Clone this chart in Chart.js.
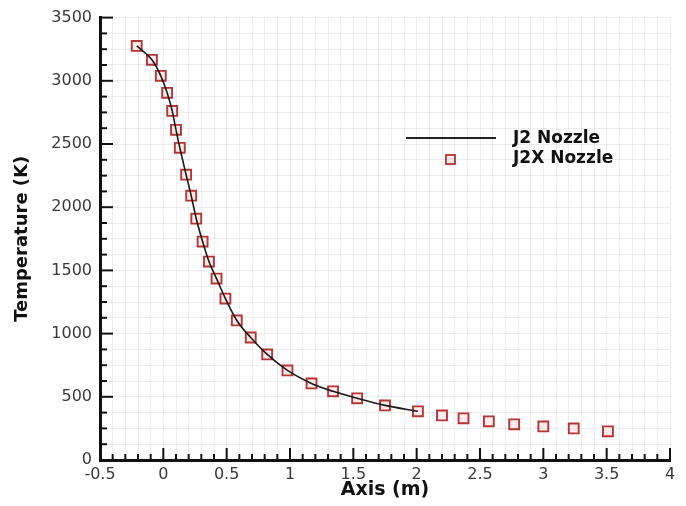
<!DOCTYPE html>
<html>
<head>
<meta charset="utf-8">
<script src="https://cdn.jsdelivr.net/npm/chart.js@4.4.0/dist/chart.umd.min.js"></script>
<style>
  html, body { margin: 0; padding: 0; background: #fff; }
  #wrap { width: 686px; height: 506px; }
</style>
</head>
<body>
<div id="wrap"><canvas id="tempChart" width="686" height="506"></canvas></div>
<script>
// data
const j2xAxis = [-0.21, -0.09, -0.02, 0.03, 0.07, 0.10, 0.13, 0.18, 0.22, 0.26,
  0.31, 0.36, 0.42, 0.49, 0.58, 0.69, 0.82, 0.98, 1.17, 1.34,
  1.53, 1.75, 2.01, 2.20, 2.37, 2.57, 2.77, 3.00, 3.24, 3.51];
const j2xTemp = [3276, 3166, 3039, 2905, 2762, 2612, 2470, 2257, 2091, 1909,
  1728, 1570, 1435, 1277, 1104, 969, 835, 709, 606, 543,
  488, 432, 385, 353, 330, 306, 282, 266, 250, 227];

const j2Axis = [-0.21, -0.09, -0.02, 0.03, 0.07, 0.10, 0.13, 0.18, 0.22, 0.26,
  0.31, 0.36, 0.42, 0.49, 0.58, 0.69, 0.82, 0.98, 1.17, 1.34,
  1.53, 1.75, 2.01];
const j2Temp = [3276, 3166, 3039, 2905, 2762, 2612, 2470, 2257, 2091, 1909,
  1728, 1570, 1435, 1277, 1104, 969, 835, 709, 606, 543,
  488, 432, 385];

const xMin = -0.5, xMax = 4, xStep = 0.1;
const yMin = 0, yMax = 3500, yStep = 125;
const legendLabels = ["J2 Nozzle", "J2X Nozzle"];

const toPoints = (xs, ys) => xs.map((x, i) => ({ x: x, y: ys[i] }));

const isMajorX = v => Math.round(v * 10) % 5 === 0;
const isMajorY = v => Math.round(v) % 500 === 0;

// inward tick marks like the original plot
const tickMarks = {
  id: "tickMarks",
  afterDraw(chart) {
    const ctx = chart.ctx;
    const xs = chart.scales.x, ys = chart.scales.y;
    const area = chart.chartArea;
    ctx.save();
    ctx.strokeStyle = "#111";
    ctx.lineWidth = 2;
    xs.ticks.forEach(t => {
      const px = xs.getPixelForValue(t.value);
      const len = isMajorX(t.value) ? 12 : 6;
      ctx.beginPath();
      ctx.moveTo(px, area.bottom);
      ctx.lineTo(px, area.bottom - len);
      ctx.stroke();
    });
    ys.ticks.forEach(t => {
      const py = ys.getPixelForValue(t.value);
      const len = isMajorY(t.value) ? 13 : 7;
      ctx.beginPath();
      ctx.moveTo(area.left, py);
      ctx.lineTo(area.left + len, py);
      ctx.stroke();
    });
    ctx.restore();
  }
};

// legend drawn inside the plot
const innerLegend = {
  id: "innerLegend",
  afterDraw(chart) {
    const ctx = chart.ctx;
    ctx.save();
    ctx.font = "bold 17px 'DejaVu Sans'";
    ctx.fillStyle = "#111";
    ctx.textBaseline = "middle";
    ctx.textAlign = "left";

    ctx.strokeStyle = "#222";
    ctx.lineWidth = 2;
    ctx.beginPath();
    ctx.moveTo(406, 138);
    ctx.lineTo(496, 138);
    ctx.stroke();
    ctx.fillText(legendLabels[0], 513, 139);

    ctx.strokeStyle = "#b33535";
    ctx.lineWidth = 1.8;
    ctx.fillStyle = "rgba(255,210,210,0.5)";
    ctx.fillRect(446, 155, 9, 9);
    ctx.strokeRect(446, 155, 9, 9);
    ctx.fillStyle = "#111";
    ctx.fillText(legendLabels[1], 513, 159);
    ctx.restore();
  }
};

const ctx = document.getElementById("tempChart").getContext("2d");

new Chart(ctx, {
  type: "scatter",
  data: {
    datasets: [
      {
        label: legendLabels[0],
        type: "line",
        data: toPoints(j2Axis, j2Temp),
        borderColor: "#1a1a1a",
        borderWidth: 1.6,
        pointRadius: 0,
        fill: false,
        cubicInterpolationMode: "monotone"
      },
      {
        label: legendLabels[1],
        data: toPoints(j2xAxis, j2xTemp),
        pointStyle: "rect",
        pointRadius: 7,
        pointBorderWidth: 1.9,
        borderColor: "#b33535",
        backgroundColor: "rgba(255,215,215,0.45)",
        showLine: false
      }
    ]
  },
  options: {
    responsive: false,
    animation: false,
    layout: { padding: { top: 17, right: 16, left: 0, bottom: 0 } },
    plugins: {
      legend: { display: false },
      tooltip: { enabled: false }
    },
    scales: {
      x: {
        type: "linear",
        min: xMin,
        max: xMax,
        afterFit: s => { s.height = 46; },
        border: { display: true, color: "#111", width: 3 },
        grid: { color: "rgba(0,0,0,0.065)", lineWidth: 1, drawTicks: false },
        ticks: {
          stepSize: xStep,
          autoSkip: false,
          maxRotation: 0,
          padding: 5,
          color: "#3a3a3a",
          font: { family: "'DejaVu Sans'", size: 16 },
          callback: v => isMajorX(v) ? String(Math.round(v * 10) / 10) : ""
        },
        title: {
          display: true,
          text: "Axis (m)",
          color: "#111",
          font: { family: "'DejaVu Sans'", size: 19, weight: "bold" },
          padding: { top: 0, bottom: 5 }
        }
      },
      y: {
        type: "linear",
        min: yMin,
        max: yMax,
        afterFit: s => { s.width = 100; },
        border: { display: true, color: "#111", width: 3 },
        grid: { color: "rgba(0,0,0,0.065)", lineWidth: 1, drawTicks: false },
        ticks: {
          stepSize: yStep,
          autoSkip: false,
          padding: 8,
          color: "#3a3a3a",
          font: { family: "'DejaVu Sans'", size: 16 },
          callback: v => isMajorY(v) ? String(Math.round(v)) : ""
        },
        title: {
          display: true,
          text: "Temperature (K)",
          color: "#111",
          font: { family: "'DejaVu Sans'", size: 18, weight: "bold" },
          padding: { top: 12, bottom: 0 }
        }
      }
    }
  },
  plugins: [tickMarks, innerLegend]
});
</script>
</body>
</html>
